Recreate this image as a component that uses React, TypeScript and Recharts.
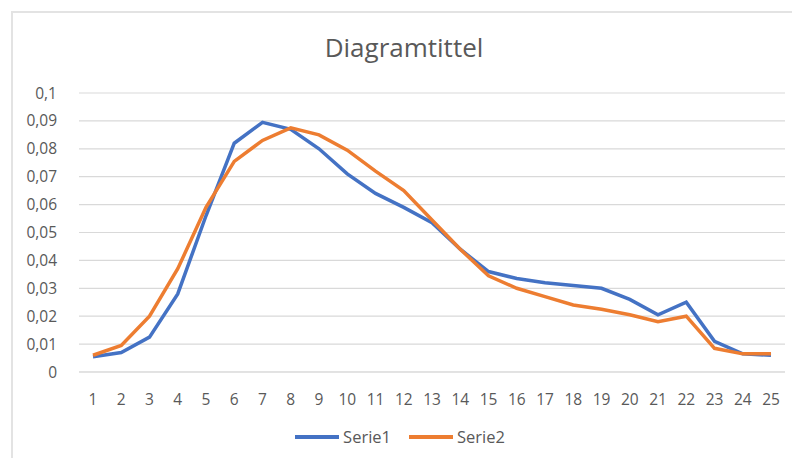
import React from 'react';
import {
    LineChart,
    Line,
    XAxis,
    YAxis,
    CartesianGrid,
    Legend
} from 'recharts';

/* ============================
   Data
============================ */

const categories = [
    '1', '2', '3', '4', '5', '6', '7', '8', '9', '10', '11', '12', '13',
    '14', '15', '16', '17', '18', '19', '20', '21', '22', '23', '24', '25'
];

const serie1 = [
    0.0055, 0.007, 0.0125, 0.028, 0.056, 0.082, 0.0895, 0.087, 0.080, 0.071,
    0.064, 0.059, 0.0535, 0.044, 0.036, 0.0335, 0.032, 0.031, 0.030, 0.026,
    0.0205, 0.025, 0.011, 0.0065, 0.006
];

const serie2 = [
    0.006, 0.0095, 0.020, 0.037, 0.059, 0.0755, 0.083, 0.0875, 0.085, 0.0795,
    0.072, 0.065, 0.0545, 0.044, 0.0345, 0.030, 0.027, 0.024, 0.0225, 0.0205,
    0.018, 0.020, 0.0085, 0.0065, 0.0065
];

const yTicks = [0, 0.01, 0.02, 0.03, 0.04, 0.05, 0.06, 0.07, 0.08, 0.09, 0.1];

const SERIES = [
    { key: 'Serie1', color: '#4472C4' },
    { key: 'Serie2', color: '#ED7D31' },
];

const data = categories.map((c, i) => ({
    name: c,
    Serie1: serie1[i],
    Serie2: serie2[i],
}));

const FONT = '"Open Sans", sans-serif';
const TEXT = '#595959';

const formatY = (v: number) => Number(v.toFixed(2)).toString().replace('.', ',');

/* ============================
   Legend
============================ */

const LegendContent = () => (
    <div style={{ display: 'flex', justifyContent: 'center', gap: 18, fontFamily: FONT, fontSize: 16.5, color: TEXT, lineHeight: '22px' }}>
        {SERIES.map(s => (
            <div key={s.key} style={{ display: 'flex', alignItems: 'center' }}>
                <span style={{ display: 'inline-block', width: 44, height: 4, background: s.color, marginRight: 4 }} />
                <span>{s.key}</span>
            </div>
        ))}
    </div>
);

/* ============================
   Component
============================ */

const App: React.FC = () => {
    return (
        <div style={{ position: 'relative', width: 800, height: 466, margin: -8, background: '#fff', overflow: 'hidden' }}>
            <div
                style={{
                    position: 'absolute',
                    left: 11,
                    top: 11,
                    width: 800,
                    height: 466,
                    borderTop: '2px solid #e3e3e3',
                    borderLeft: '2px solid #e3e3e3',
                }}
            />
            <div
                style={{
                    position: 'absolute',
                    top: 29,
                    left: 0,
                    width: 808,
                    textAlign: 'center',
                    fontFamily: FONT,
                    fontSize: 26,
                    color: TEXT,
                    lineHeight: '36px',
                }}
            >
                Diagramtittel
            </div>
            <div style={{ position: 'absolute', left: 0, top: 0 }}>
                <LineChart
                    width={800}
                    height={466}
                    data={data}
                    margin={{ top: 93, right: 15, left: 0, bottom: 0 }}
                >
                    <CartesianGrid vertical={false} stroke="#d9d9d9" strokeWidth={1.2} />
                    <XAxis
                        dataKey="name"
                        axisLine={{ stroke: '#d9d9d9' }}
                        tickLine={false}
                        tick={{ fill: TEXT, fontFamily: FONT, fontSize: 15.5 }}
                        tickMargin={16}
                        interval={0}
                        padding={{ left: 14, right: 14 }}
                        height={72}
                    />
                    <YAxis
                        domain={[0, 0.1]}
                        ticks={yTicks}
                        tickFormatter={formatY}
                        axisLine={false}
                        tickLine={false}
                        tick={{ fill: TEXT, fontFamily: FONT, fontSize: 15.5 }}
                        tickMargin={16}
                        width={79}
                    />
                    {SERIES.map(s => (
                        <Line
                            key={s.key}
                            type="linear"
                            dataKey={s.key}
                            stroke={s.color}
                            strokeWidth={3.5}
                            dot={false}
                            isAnimationActive={false}
                        />
                    ))}
                    <Legend
                        content={<LegendContent />}
                        wrapperStyle={{ position: 'absolute', top: 426, left: 0, width: 800, height: 22 }}
                    />
                </LineChart>
            </div>
        </div>
    );
};

export default App;
